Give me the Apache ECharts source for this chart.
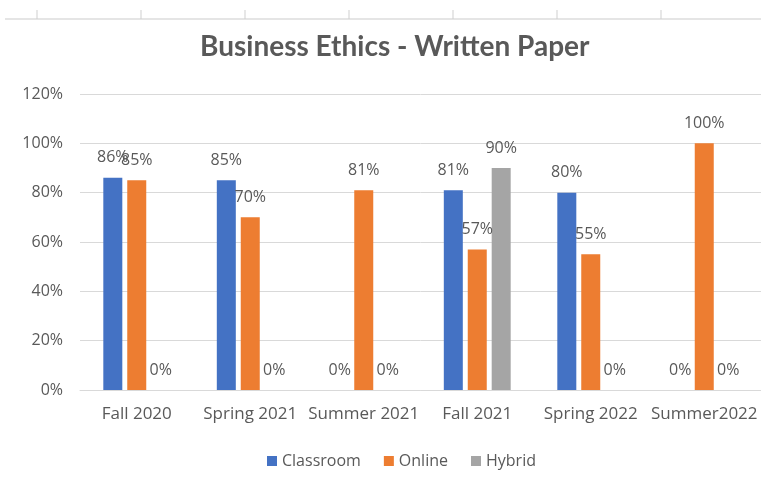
<!DOCTYPE html>
<html><head><meta charset="utf-8">
<script src="https://cdn.jsdelivr.net/npm/echarts@6/dist/echarts.min.js"></script>
<style>html,body{margin:0;padding:0;background:#fff}#c{width:761px;height:484px}</style>
</head><body><div id="c"></div>
<script>
const categories = ['Fall 2020','Spring 2021','Summer 2021','Fall 2021','Spring 2022','Summer2022'];
const classroom = [86, 85, 0, 81, 80, 0];
const online = [85, 70, 81, 57, 55, 100];
const hybrid = [0, 0, 0, 90, 0, 0];
const yTicks = [0, 20, 40, 60, 80, 100, 120];

const chart = echarts.init(document.getElementById('c'));
const font = '"Open Sans", sans-serif';
const lbl = {show:true, position:'top', distance:12, formatter:'{c}%', color:'#595959', fontSize:16, fontFamily:font};
function mk(name, data, color){
  return {name, type:'bar', data, barWidth:19, barGap:'26%', itemStyle:{color}, label:lbl};
}
const topTicks = [37,141,245,349,453,557,661].map(x=>({type:'line', shape:{x1:x,y1:10,x2:x,y2:19}, style:{stroke:'#cfcfcf', lineWidth:1}}));
chart.setOption({
  animation:false,
  title:{text:'Business Ethics - Written Paper', left:200, top:33, padding:0,
    textStyle:{fontFamily:'Lato, sans-serif', fontWeight:'bold', fontSize:28, color:'#595959'}},
  graphic:[{type:'line', shape:{x1:5,y1:19,x2:761,y2:19}, style:{stroke:'#dcdcdc', lineWidth:1.5}}].concat(topTicks),
  legend:{data:['Classroom','Online','Hybrid'], bottom:10, left:262, itemWidth:10, itemHeight:10, itemGap:23,
    icon:'rect', textStyle:{color:'#595959', fontSize:16, fontFamily:font}},
  grid:{left:80, right:0, top:94, bottom:94},
  xAxis:{type:'category', data:categories, axisTick:{show:false},
    axisLine:{lineStyle:{color:'#d9d9d9'}},
    axisLabel:{color:'#595959', fontSize:17, fontFamily:font, margin:16, interval:0}},
  yAxis:{type:'value', min:0, max:120, interval:20,
    axisLabel:{formatter:v=>yTicks.includes(v)?v+'%':'', color:'#595959', fontSize:16, fontFamily:font, margin:17},
    splitLine:{lineStyle:{color:'#d9d9d9'}}, axisLine:{show:false}, axisTick:{show:false}},
  series:[mk('Classroom', classroom, '#4472C4'), mk('Online', online, '#ED7D31'), mk('Hybrid', hybrid, '#A5A5A5')]
});
</script></body></html>
